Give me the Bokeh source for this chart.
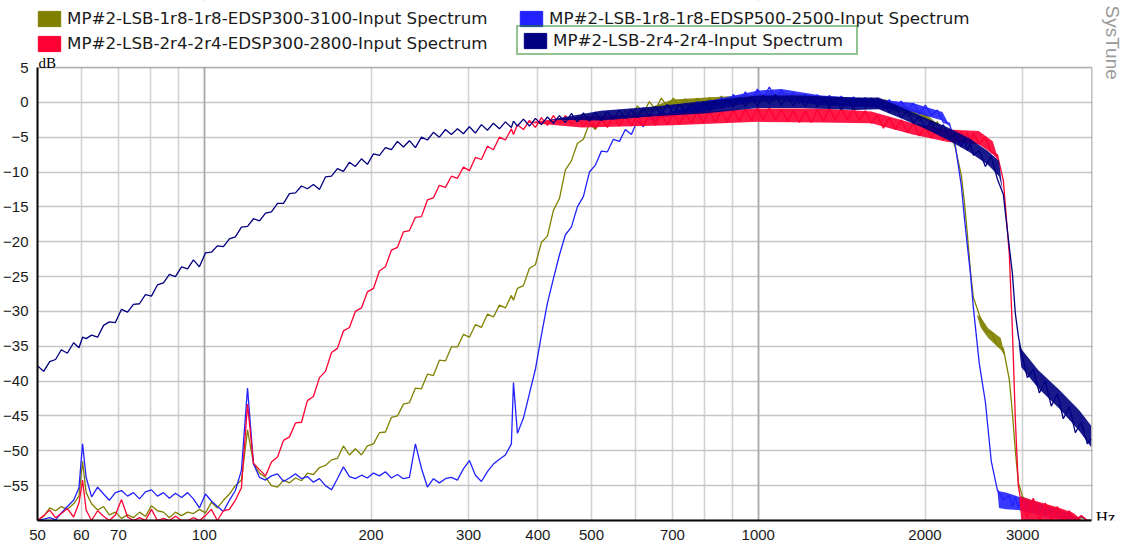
import math
from bokeh.plotting import figure
from bokeh.models import (Range1d, FixedTicker, NumeralTickFormatter, Legend,
                          LegendItem, Label, Grid, BoxAnnotation)
from bokeh.embed import file_html
from bokeh.resources import INLINE

# ---------------- data ----------------
series_names = [
    "MP#2-LSB-1r8-1r8-EDSP300-3100-Input Spectrum",
    "MP#2-LSB-1r8-1r8-EDSP500-2500-Input Spectrum",
    "MP#2-LSB-2r4-2r4-EDSP300-2800-Input Spectrum",
    "MP#2-LSB-2r4-2r4-Input Spectrum",
]
series_colors = ["#808000", "#2222ff", "#ff0033", "#000080"]

x_tick_values = [50, 60, 70, 100, 200, 300, 400, 500, 700, 1000, 2000, 3000]
x_grid_values = [60, 70, 80, 90, 100, 200, 300, 400, 500, 600, 700, 800, 900,
                 1000, 2000, 3000]
x_decade_values = [100, 1000]
y_tick_values = [5, 0, -5, -10, -15, -20, -25, -30, -35, -40, -45, -50, -55]
x_min, x_max = 50, 4000
y_min, y_max = -60, 5

hz = [
    50.0, 51.3, 52.6, 53.9, 55.2, 56.6, 58.1, 59.4, 60.3, 61.2,
    62.6, 64.2, 65.8, 67.4, 69.1, 70.9, 72.7, 74.5, 76.4, 78.3,
    80.3, 82.3, 84.4, 86.5, 88.7, 91.0, 93.3, 95.6, 98.0, 100.5,
    103.0, 105.6, 108.3, 111.0, 113.8, 116.7, 119.7, 122.7, 125.8, 129.0,
    132.2, 135.6, 139.0, 142.5, 146.1, 149.8, 153.5, 157.4, 161.4, 165.5,
    169.7, 173.9, 178.3, 182.8, 187.4, 192.2, 197.0, 202.0, 207.1, 212.3,
    217.7, 223.2, 228.8, 234.6, 240.5, 246.6, 252.8, 259.2, 265.7, 272.5,
    279.3, 286.4, 293.6, 301.0, 308.6, 316.4, 324.4, 332.6, 341.0, 349.6,
    358.4, 361.5, 367.5, 376.8, 386.3, 396.0, 406.0, 416.3, 426.8, 437.6,
    448.6, 459.9, 471.5, 483.5, 495.7, 508.2, 521.0, 534.2, 547.6, 561.5,
    575.6, 590.2, 605.1, 620.4, 636.0, 652.1, 668.5, 685.4, 702.7, 720.5,
    738.6, 757.3, 776.4, 796.0, 816.1, 836.7, 857.8, 879.5, 901.7, 924.5,
    947.8, 971.7, 996.3, 1021, 1047, 1074, 1101, 1129, 1157, 1186,
    1216, 1247, 1278, 1311, 1344, 1378, 1412, 1448, 1485, 1522,
    1561, 1600, 1640, 1682, 1724, 1768, 1812, 1858, 1905, 1953,
    2003, 2053, 2105, 2158, 2213, 2268, 2326, 2355, 2384, 2415,
    2445, 2506, 2570, 2634, 2701, 2769, 2839, 2875, 2911, 2947,
    2984, 3060, 3137, 3216, 3297, 3380, 3466, 3553, 3643, 3735,
    3829, 3926, 3990,
]

db_olive = [
    -60.0, -59.4, -58.2, -58.6, -58.0, -58.4, -57.6, -56.5, -51.5, -56.0,
    -57.6, -58.5, -58.0, -59.2, -58.8, -59.7, -59.2, -59.6, -58.8, -59.4,
    -57.9, -58.6, -58.8, -59.6, -58.8, -59.3, -58.8, -59.0, -58.4, -58.9,
    -57.4, -58.2, -57.1, -56.2, -55.0, -54.2, -47.0, -51.8, -53.2, -53.8,
    -55.0, -55.2, -54.2, -54.6, -53.9, -54.3, -53.2, -53.4, -52.4, -52.1,
    -51.3, -51.1, -49.3, -50.6, -49.7, -50.6, -49.3, -49.0, -47.4, -47.3,
    -45.2, -45.0, -43.3, -43.1, -41.0, -41.1, -39.0, -39.2, -37.0, -37.1,
    -35.1, -35.1, -33.3, -33.7, -31.9, -32.3, -30.4, -30.8, -29.1, -29.5,
    -27.7, -28.4, -26.7, -26.3, -23.8, -23.3, -20.1, -19.2, -15.5, -13.8,
    -9.7, -8.4, -5.9, -5.3, -3.0, -3.9, -2.5, -3.4, -1.9, -2.7,
    -1.2, -2.2, -0.5, -1.5, 0.1, -1.0, 0.6, -0.6, 0.6, -0.6,
    0.5, -0.7, 0.6, -0.6, 0.7, -0.4, 0.9, -0.3, 1.1, -0.1,
    1.3, 0.1, 1.5, 0.3, 1.6, 0.3, 1.4, 0.0, 1.1, -0.2,
    0.9, -0.3, 0.8, -0.4, 0.7, -0.5, 0.6, -0.6, 0.6, -0.6,
    0.6, -0.6, 0.4, -1.0, 0.0, -1.5, -0.6, -2.1, -1.2, -2.7,
    -1.9, -3.5, -2.8, -4.4, -4.1, -6.5, -10.5, -14.3, -18.8, -24.2,
    -28.0, -30.5, -32.8, -33.0, -34.9, -35.3, -39.8, -44.5, -50.0, -54.5,
    -56.0, -58.5, -57.2, -59.0, -58.0, -59.3, -58.6, -59.6, -59.0, -60.0,
    -59.6, -60.0, -60.0,
]

db_blue = [
    -60.0, -59.8, -59.6, -59.9, -58.9, -58.0, -57.1, -55.3, -49.0, -53.8,
    -56.6, -55.2, -56.2, -57.1, -56.0, -55.7, -56.5, -56.0, -56.9, -55.9,
    -55.6, -56.5, -56.0, -56.8, -56.1, -56.7, -56.0, -56.9, -58.2, -56.2,
    -57.2, -58.0, -58.7, -57.1, -55.7, -52.8, -41.0, -51.9, -53.8, -54.2,
    -53.6, -53.3, -54.4, -53.9, -53.3, -54.0, -53.7, -54.5, -54.0, -55.0,
    -55.6, -54.0, -52.3, -53.7, -54.0, -53.5, -53.9, -53.2, -53.6, -53.0,
    -53.9, -53.4, -54.0, -53.8, -49.0, -52.5, -55.2, -54.0, -54.6, -54.0,
    -53.8, -54.2, -52.6, -51.4, -53.5, -54.4, -53.0, -51.9, -51.2, -50.6,
    -49.0, -40.2, -47.5, -45.3, -41.8, -38.3, -33.4, -28.8, -25.3, -21.9,
    -19.0, -17.9, -15.0, -13.5, -10.0, -9.0, -7.0, -7.1, -5.3, -5.6,
    -3.9, -4.6, -2.6, -3.5, -1.7, -2.8, -1.0, -2.1, -0.4, -1.6,
    -0.1, -1.5, 0.1, -1.2, 0.3, -0.9, 0.7, -0.5, 1.1, -0.1,
    1.5, 0.2, 1.9, 0.6, 2.2, 0.7, 1.8, 0.2, 1.4, -0.1,
    1.2, -0.2, 1.1, -0.3, 1.0, -0.4, 0.9, -0.5, 0.8, -0.6,
    0.7, -0.7, 0.6, -0.9, 0.4, -1.1, 0.2, -1.3, -0.1, -1.7,
    -0.4, -1.9, -1.1, -2.9, -3.0, -6.2, -12.0, -16.5, -20.5, -24.5,
    -29.5, -37.5, -43.0, -51.5, -55.6, -57.0, -56.4, -58.0, -56.6, -58.2,
    -56.6, -58.4, -57.0, -58.8, -57.6, -59.2, -58.2, -59.6, -58.7, -60.0,
    -59.4, -60.0, -60.0,
]

db_red = [
    -60.0, -59.3, -58.5, -59.6, -59.0, -58.3, -59.5, -57.5, -54.2, -58.5,
    -60.0, -58.6, -59.4, -60.0, -59.2, -57.0, -59.5, -60.0, -59.6, -60.0,
    -58.4, -60.0, -59.7, -60.0, -59.4, -60.0, -60.0, -59.6, -60.0, -59.3,
    -58.4, -60.0, -58.6, -58.4, -57.1, -55.3, -43.3, -51.8, -52.7, -53.6,
    -51.6, -50.9, -48.5, -48.0, -46.0, -45.9, -42.8, -42.2, -39.5, -38.6,
    -35.9, -35.3, -32.8, -32.3, -30.0, -29.5, -27.2, -26.7, -24.2, -23.6,
    -21.2, -20.8, -18.6, -18.4, -16.5, -16.4, -14.0, -13.7, -11.9, -12.2,
    -10.6, -10.9, -9.3, -9.8, -7.9, -8.2, -6.3, -6.8, -5.0, -5.4,
    -3.8, -4.6, -3.2, -3.9, -2.6, -3.6, -2.2, -3.3, -1.9, -3.1,
    -1.9, -3.2, -2.1, -3.5, -2.2, -3.7, -2.3, -3.6, -2.1, -3.4,
    -1.9, -3.4, -1.8, -3.3, -1.7, -3.3, -1.8, -3.2, -1.6, -3.1,
    -1.5, -3.0, -1.4, -2.9, -1.3, -2.8, -1.2, -2.7, -1.1, -2.7,
    -1.0, -2.6, -0.8, -2.5, -0.8, -2.5, -1.0, -2.7, -1.2, -2.9,
    -1.3, -2.9, -1.1, -2.7, -0.9, -2.5, -0.8, -2.5, -0.8, -2.6,
    -1.2, -3.0, -1.8, -3.7, -2.2, -3.9, -2.5, -4.3, -3.0, -4.8,
    -3.4, -5.1, -3.8, -5.5, -4.0, -5.6, -4.2, -5.8, -4.2, -5.9,
    -4.4, -6.0, -4.9, -7.2, -7.5, -11.2, -21.8, -32.5, -45.5, -55.0,
    -57.6, -59.5, -56.8, -60.0, -57.5, -60.0, -58.0, -60.0, -58.6, -60.0,
    -59.3, -60.0, -60.0,
]

db_navy = [
    -37.8, -38.6, -37.2, -36.9, -35.5, -36.0, -34.5, -35.2, -33.7, -33.9,
    -33.4, -33.7, -32.0, -31.5, -31.6, -29.7, -30.1, -29.0, -28.9, -27.6,
    -27.8, -26.2, -25.9, -24.7, -25.0, -23.6, -23.9, -22.6, -23.6, -21.6,
    -21.5, -20.6, -20.7, -19.6, -19.3, -17.9, -17.8, -16.7, -17.0, -15.9,
    -15.7, -14.5, -14.5, -13.1, -13.0, -12.0, -12.4, -11.8, -12.5, -10.7,
    -10.6, -9.5, -9.9, -8.6, -9.2, -8.1, -8.9, -7.4, -7.6, -6.5,
    -6.8, -5.6, -6.4, -5.5, -6.5, -5.0, -5.4, -4.3, -5.0, -3.9,
    -4.6, -3.8, -4.5, -3.5, -4.4, -3.2, -4.0, -3.0, -3.8, -2.8,
    -3.6, -2.7, -3.4, -2.4, -3.4, -2.3, -3.2, -2.1, -3.0, -1.9,
    -2.9, -1.6, -2.8, -1.5, -2.7, -1.4, -2.6, -1.3, -2.4, -1.1,
    -2.3, -1.0, -2.2, -0.8, -2.0, -0.6, -1.8, -0.3, -1.6, -0.3,
    -1.5, -0.1, -1.3, 0.1, -1.1, 0.3, -0.9, 0.5, -0.7, 0.7,
    -0.6, 0.8, -0.5, 1.0, -0.3, 1.1, -0.4, 0.9, -0.5, 0.8,
    -0.6, 0.7, -0.7, 0.6, -0.8, 0.5, -1.0, 0.4, -0.9, 0.6,
    -0.8, 0.6, -0.9, 0.2, -1.5, -0.4, -2.2, -1.2, -3.0, -2.0,
    -3.7, -2.7, -4.5, -3.2, -5.3, -4.4, -6.4, -5.2, -6.9, -5.9,
    -7.6, -6.9, -9.2, -7.7, -11.0, -13.2, -20.8, -24.5, -30.3, -33.5,
    -35.8, -39.5, -38.3, -41.7, -40.0, -43.6, -41.8, -45.4, -43.7, -47.4,
    -45.9, -49.0, -48.3,
]

# Thickness of the noisy parts of each trace (lower / upper edge of the band)
olive_band_hz = [560, 700, 900, 1100, 1400, 1700, 2000, 2150, 2480, 2520, 2600,
                 2740, 2790, 2980, 3200, 3500, 3800]
olive_band_lo = [-2.3, -0.7, -0.3, 0.2, -0.4, -0.7, -2.6, -3.8, -30.5, -32.3,
                 -33.8, -35.5, -36.5, -56.5, -59.0, -59.6, -60.0]
olive_band_hi = [-2.3, 0.4, 0.9, 1.4, 0.7, 0.4, -1.5, -3.8, -30.5, -30.8,
                 -32.4, -33.8, -36.5, -56.5, -57.5, -58.4, -59.8]

blue_band_hz = [620, 800, 1000, 1100, 1300, 1600, 1900, 2150, 2220, 2700, 2720,
                2800, 2950, 3200, 3500, 3800]
blue_band_lo = [-2.6, -1.3, 0.2, 0.4, -0.4, -0.7, -1.4, -2.6, -3.5, -55.5,
                -58.2, -58.4, -58.5, -59.2, -59.8, -60.0]
blue_band_hi = [-2.6, 0.1, 1.7, 1.9, 1.0, 0.5, -0.1, -1.4, -3.5, -55.5,
                -55.8, -56.0, -56.6, -57.5, -58.5, -59.6]

red_band_hz = [380, 480, 700, 1000, 1300, 1600, 1900, 2200, 2500, 2650, 2720,
               2780, 2960, 2984, 3100, 3300, 3500, 3700, 3850]
red_band_lo = [-2.9, -3.6, -3.3, -2.8, -2.9, -3.0, -4.6, -5.7, -6.0, -7.4,
               -8.5, -12.0, -57.0, -60.0, -60.0, -60.0, -60.0, -60.0, -60.0]
red_band_hi = [-2.9, -2.0, -1.6, -0.9, -0.9, -1.3, -3.0, -3.9, -4.1, -5.6,
               -8.5, -12.0, -57.0, -56.6, -57.0, -57.6, -58.2, -58.9, -60.0]

navy_band_hz = [420, 520, 650, 800, 1000, 1200, 1500, 1650, 1800, 2000, 2200,
                2400, 2600, 2720, 2760, 2950, 2984, 3200, 3500, 3800, 3990]
navy_band_lo = [-2.5, -2.6, -2.0, -1.6, -0.8, -0.8, -1.1, -1.0, -2.2, -3.8,
                -5.4, -7.1, -9.0, -10.6, -12.5, -34.5, -38.0, -41.0, -44.0,
                -47.2, -49.5]
navy_band_hi = [-2.5, -1.2, -0.6, 0.2, 1.0, 1.0, 0.7, 0.7, -0.6, -2.2, -3.6,
                -5.1, -7.0, -8.4, -12.5, -34.5, -35.4, -38.4, -41.3, -44.2,
                -46.4]

series_values = [db_olive, db_blue, db_red, db_navy]
series_bands = [(olive_band_hz, olive_band_lo, olive_band_hi),
                (blue_band_hz, blue_band_lo, blue_band_hi),
                (red_band_hz, red_band_lo, red_band_hi),
                (navy_band_hz, navy_band_lo, navy_band_hi)]
for s in series_values:
    assert len(s) == len(hz), (len(s), len(hz))
for bh, bl, bu in series_bands:
    assert len(bh) == len(bl) == len(bu)

# ---------------- geometry ----------------
FW, FH = 1088, 520          # frame covers page x 37..1125 and the legend strip
PX_DECADE = 554.0           # pixels per decade on the x axis
TOP_PAD = 67                # pixels between frame top and the y = 5 line
x_view_max = x_min * 10 ** (FW / PX_DECADE)
y_view_max = y_max + TOP_PAD * (y_max - y_min) / (FH - TOP_PAD)

p = figure(frame_width=FW, frame_height=FH, x_axis_type="log",
           x_range=Range1d(x_min, x_view_max), y_range=Range1d(y_min, y_view_max),
           output_backend="svg", toolbar_location=None,
           min_border_left=29, min_border_right=0, min_border_top=0,
           min_border_bottom=21,
           background_fill_color="white", border_fill_color="white")
p.outline_line_color = None

for ax in (p.xaxis[0], p.yaxis[0]):
    ax.major_label_text_font = "Liberation Sans"
    ax.major_label_text_font_size = "15px"
    ax.major_label_text_color = "#1a1a1a"
    ax.major_tick_line_color = None
    ax.minor_tick_line_color = None
    ax.axis_line_color = "black"
    ax.axis_line_width = 2
    ax.major_label_standoff = 3

p.xaxis[0].ticker = FixedTicker(ticks=x_tick_values)
p.xaxis[0].formatter = NumeralTickFormatter(format="0")
p.xaxis[0].bounds = (x_min, x_max)
p.yaxis[0].ticker = FixedTicker(ticks=y_tick_values)
p.yaxis[0].bounds = (y_min, y_max)

p.xgrid[0].ticker = FixedTicker(ticks=x_grid_values)
p.xgrid[0].grid_line_color = "#d2d2d2"
p.xgrid[0].grid_line_width = 1.6
p.ygrid[0].grid_line_color = "#c6c6c6"
p.ygrid[0].grid_line_width = 1.6
p.add_layout(Grid(dimension=0, ticker=FixedTicker(ticks=x_decade_values),
                  grid_line_color="#a8a8a8", grid_line_width=1.6))

# curves (draw order: olive, blue, red, navy)
for vals, (bh, bl, bu), col in zip(series_values, series_bands, series_colors):
    p.varea(x=bh, y1=bl, y2=bu, fill_color=col, fill_alpha=0.9)
    p.line(hz, vals, line_color=col, line_width=1.3)

# white covers outside the data box, then the box border
p.add_layout(BoxAnnotation(bottom=y_max, fill_color="white", fill_alpha=1.0,
                           line_color=None))
p.add_layout(BoxAnnotation(left=x_max, fill_color="white", fill_alpha=1.0,
                           line_color=None))
p.add_layout(BoxAnnotation(left=x_min, right=x_max, bottom=y_min, top=y_max,
                           fill_alpha=0, line_color="#303030", line_width=1.5))

# legend swatches (legend-only renderers, nothing drawn in the plot)
nan = float("nan")
swatches = [p.quad(left=[nan], right=[nan], top=[nan], bottom=[nan],
                   fill_color=c, line_color=c) for c in series_colors]

common = dict(label_text_font="DejaVu Sans", label_text_font_size="16.7px",
              label_text_color="#1a1a1a", glyph_width=28, glyph_height=19,
              label_height=19, label_standoff=4, spacing=5, margin=0,
              background_fill_alpha=0)

legA = Legend(items=[LegendItem(label=series_names[0], renderers=[swatches[0]]),
                     LegendItem(label=series_names[2], renderers=[swatches[2]])],
              location=(-2, FH - 53), orientation="vertical", padding=0,
              border_line_color=None, **common)
legB = Legend(items=[LegendItem(label=series_names[1], renderers=[swatches[1]])],
              location=(480, FH - 28), padding=0, border_line_color=None, **common)
legC = Legend(items=[LegendItem(label=series_names[3], renderers=[swatches[3]])],
              location=(479, FH - 55), padding=3, border_line_color="#238a23",
              border_line_width=2, label_width=300, **common)
for lg in (legA, legB, legC):
    p.add_layout(lg)

p.add_layout(Label(x=x_min, y=y_max, x_offset=1, y_offset=5, text="dB",
                   text_font="Liberation Serif", text_font_size="15px",
                   text_color="black", text_baseline="alphabetic"))
p.add_layout(Label(x=x_max, y=y_min, x_offset=4, y_offset=3, text="Hz",
                   text_font="Liberation Serif", text_font_size="17px",
                   text_color="black", text_baseline="alphabetic"))
p.add_layout(Label(x=x_max, y=y_max, x_offset=21, y_offset=62,
                   text="SysTune", angle=-math.pi / 2, text_align="left",
                   text_baseline="middle", text_font="Liberation Sans",
                   text_font_size="19px", text_color="#9a9a9a"))

open("out.html", "w").write(file_html(p, INLINE))
